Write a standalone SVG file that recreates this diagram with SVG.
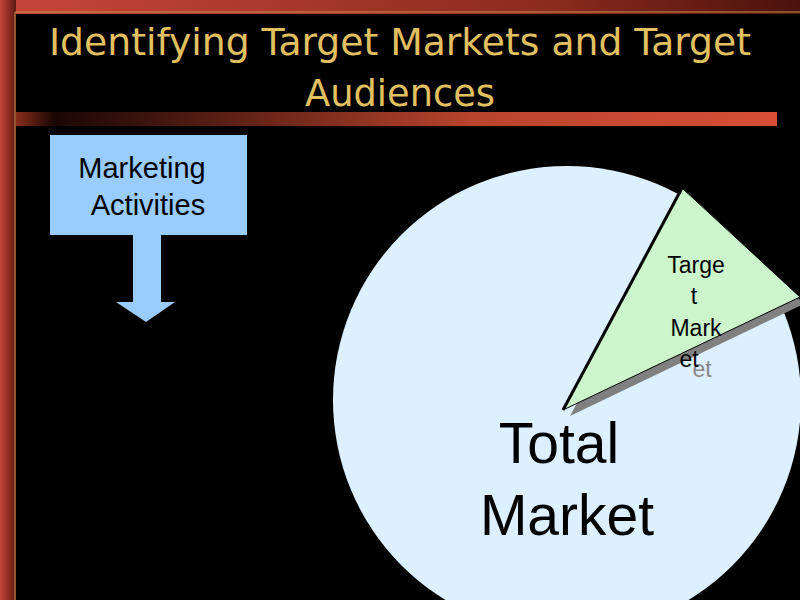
<svg xmlns="http://www.w3.org/2000/svg" width="800" height="600" viewBox="0 0 800 600">
<defs>
<linearGradient id="lg" x1="0" y1="0" x2="1" y2="0"><stop offset="0" stop-color="#c8463a"/><stop offset="1" stop-color="#5a1a12"/></linearGradient>
<linearGradient id="tg" x1="0" y1="0" x2="1" y2="0"><stop offset="0" stop-color="#c8463a"/><stop offset="0.7" stop-color="#8a2a1e"/><stop offset="1" stop-color="#4a120c"/></linearGradient>
<linearGradient id="bar" x1="0" y1="0" x2="1" y2="0"><stop offset="0" stop-color="#8a2e1a"/><stop offset="0.05" stop-color="#1a0604"/><stop offset="0.6" stop-color="#b8442c"/><stop offset="1" stop-color="#d84e36"/></linearGradient>
<style>
.t{font-family:"DejaVu Sans",sans-serif;fill:#e2c060;font-size:38px}
.s{font-family:"Liberation Sans",Arial,sans-serif;fill:#000}
</style>
</defs>
<rect width="800" height="600" fill="#000"/>
<rect x="0" y="0" width="800" height="14" fill="url(#tg)"/>
<rect x="0" y="0" width="16" height="600" fill="url(#lg)"/>
<path d="M15 600V12H800" fill="none" stroke="#c8904a" stroke-width="1"/>
<rect x="16" y="112" width="761" height="14" fill="url(#bar)"/>
<text class="t" x="400" y="55" text-anchor="middle" textLength="702" lengthAdjust="spacingAndGlyphs">Identifying Target Markets and Target</text>
<text class="t" x="400" y="106" text-anchor="middle" textLength="190" lengthAdjust="spacingAndGlyphs">Audiences</text>
<g id="marketing-activities">
<rect x="50" y="135" width="197" height="100" fill="#99ccff"/>
<text class="s" x="142" y="178" font-size="29" text-anchor="middle">Marketing</text>
<text class="s" x="148" y="215" font-size="29" text-anchor="middle">Activities</text>
</g>
<g id="connectors">
<polygon points="133,235 161,235 161,302 175,302 146,322 116,302 133,302" fill="#99ccff"/>
</g>
<g id="total-market">
<circle cx="567" cy="400" r="234" fill="#ddf0ff"/>
<text class="s" x="559" y="463" font-size="57" text-anchor="middle">Total</text>
<text class="s" x="567" y="535" font-size="57" text-anchor="middle">Market</text>
</g>
<g id="target-market">
<polygon points="570,416 689,194 806,303" fill="#808080"/>
<polygon points="686,186 800,291 800,300 690,190" fill="#000"/>
<polygon points="563,410 682,188 800,297" fill="#ccf5cc" stroke="#000" stroke-width="1"/>
<line x1="563" y1="410" x2="682" y2="188" stroke="#000" stroke-width="3"/>
<text class="s" x="702" y="377" font-size="23" text-anchor="middle" style="fill:#888">et</text>
<text class="s" x="696" y="273" font-size="23" text-anchor="middle">Targe</text>
<text class="s" x="694" y="304" font-size="23" text-anchor="middle">t</text>
<text class="s" x="696" y="336" font-size="23" text-anchor="middle">Mark</text>
<text class="s" x="689" y="367" font-size="23" text-anchor="middle">et</text>
</g>
</svg>
